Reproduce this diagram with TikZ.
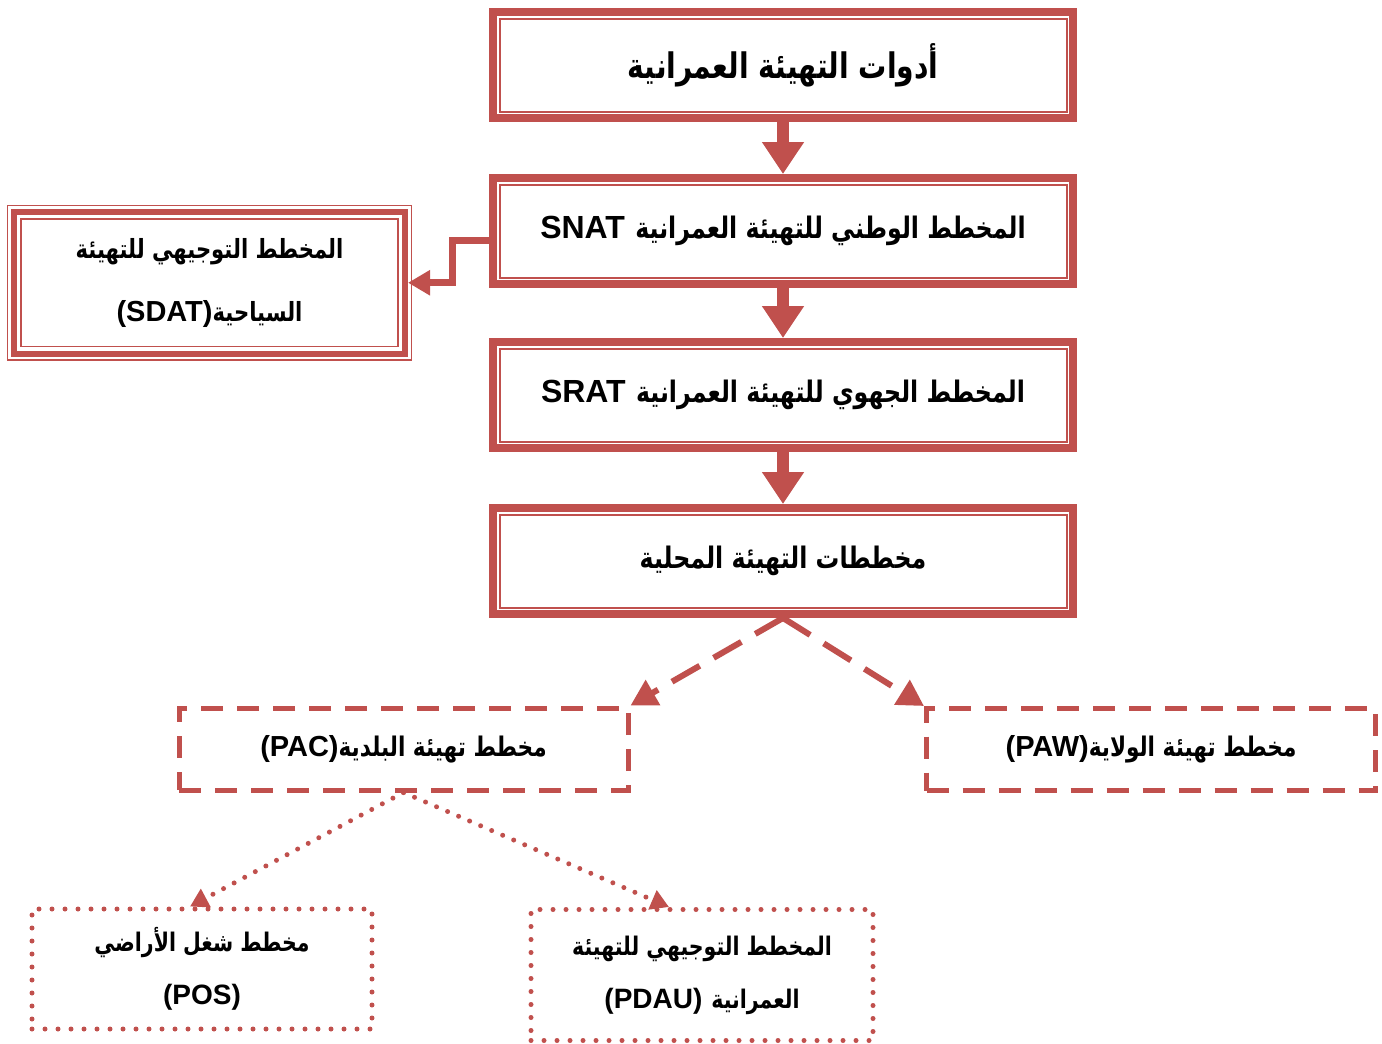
\documentclass[tikz,border=0pt]{standalone}
\usepackage{fontspec}
\usepackage{tikz}
\usetikzlibrary{arrows.meta, positioning, calc}
\TeXXeTstate=1
\newfontfamily\arabicfont[Script=Arabic]{DejaVu Sans}
\newfontfamily\latinfont{Liberation Sans}
\definecolor{boxred}{HTML}{C0504D}
% Arabic run, a little narrower; Latin run at its own size
\newcommand{\ar}[1]{\scalebox{0.8}[1]{\beginR #1\endR}}
\newcommand{\lat}[2][14]{{\latinfont\bfseries\fontsize{#1}{#1}\selectfont #2}}

\begin{document}
\begin{tikzpicture}[x=0.5pt, y=-0.5pt,
    mainbox/.style={draw=boxred, line width=4pt, minimum width=290pt, minimum height=53pt,
      inner sep=0pt, font=\arabicfont\bfseries\fontsize{14.8}{18}\selectfont},
    sidebox/.style={draw=boxred, line width=3pt, minimum width=195.5pt, minimum height=70.75pt,
      inner sep=0pt, align=center, font=\arabicfont\bfseries\fontsize{13.2}{31.5}\selectfont},
    dashbox/.style={draw=boxred, line width=2.5pt, dash pattern=on 11pt off 7pt,
      minimum width=224.5pt, minimum height=41pt, inner sep=0pt,
      font=\arabicfont\bfseries\fontsize{13.5}{16}\selectfont},
    dotbox/.style={draw=boxred, line width=2.5pt, dash pattern=on 0pt off 6.5pt, line cap=round,
      minimum width=170pt, minimum height=60pt, inner sep=0pt, align=center,
      font=\arabicfont\bfseries\fontsize{12.8}{26.5}\selectfont},
    thinline/.style={draw=boxred, line width=1pt},
    mainarrow/.style={boxred, line width=6pt, -{Triangle[length=16pt, width=20pt]}},
    sidearrow/.style={boxred, line width=3.5pt, -{Triangle[length=11pt, width=12pt]}},
    dasharrow/.style={boxred, line width=3pt, dash pattern=on 16pt off 8pt, -{Triangle[length=13pt, width=14pt]}},
    dotarrow/.style={boxred, line width=2.5pt, dash pattern=on 0pt off 6pt, line cap=round, -{Triangle[length=9pt, width=10pt]}}
  ]
  \useasboundingbox (0,0) rectangle (1382,1044);

  % main chain of plans (mixed lines written in visual order: Latin left, Arabic right)
  \node[mainbox, font=\arabicfont\bfseries\fontsize{17.6}{20}\selectfont] (t1) at (783,65)
    {\ar{أدوات التهيئة العمرانية}};
  \node[mainbox] (t2) at (783,231) {\lat[16]{SNAT} \ar{المخطط الوطني للتهيئة العمرانية}};
  \node[mainbox] (t3) at (783,395) {\lat[16]{SRAT} \ar{المخطط الجهوي للتهيئة العمرانية}};
  \node[mainbox] (t4) at (783,561) {\ar{مخططات التهيئة المحلية}};

  % thin inner frame of the main boxes
  \foreach \b in {t1,t2,t3,t4}
    \draw[thinline] ($(\b.north west)+(10.5,10.5)$) rectangle ($(\b.south east)+(-10.5,-10.5)$);

  % side box with triple frame
  \node[sidebox] (sdat) at (209.5,282.75)
    {\ar{المخطط التوجيهي للتهيئة}\\\lat[14.5]{(SDAT)}\ar{السياحية}};
  \draw[thinline, line width=0.75pt] ($(sdat.north west)+(-3.5,-3.5)$) rectangle ($(sdat.south east)+(3.5,3.5)$);
  \draw[thinline, line width=0.75pt] ($(sdat.north west)+(10,10)$) rectangle ($(sdat.south east)+(-10,-10)$);

  % local plans
  \node[dashbox] (pac) at (403.5,749) {\lat[14.5]{(PAC)}\ar{مخطط تهيئة البلدية}};
  \node[dashbox] (paw) at (1151,749.5) {\lat[14.5]{(PAW)}\ar{مخطط تهيئة الولاية}};
  \node[dotbox] (pos) at (202,969)
    {\ar{مخطط شغل الأراضي}\\\lat{(POS)}};
  \node[dotbox, minimum width=171pt, minimum height=65.5pt] (pdau) at (702,975)
    {\ar{المخطط التوجيهي للتهيئة}\\\lat{(PDAU)} \ar{العمرانية}};

  % connectors
  \draw[mainarrow] (t1.south) -- (t2.north);
  \draw[mainarrow] (t2.south) -- (t3.north);
  \draw[mainarrow] (t3.south) -- (t4.north);
  \draw[sidearrow] ([yshift=-4.5pt]t2.west) -- ++(-37,0) |- (sdat.east);
  \draw[dasharrow] (t4.south) -- (pac.north east);
  \draw[dasharrow] (t4.south) -- (paw.north west);
  \draw[dotarrow] (pac.south) -- ([xshift=-6pt]pos.north);
  \draw[dotarrow] (pac.south) -- ([xshift=-16.5pt]pdau.north);
\end{tikzpicture}
\end{document}
